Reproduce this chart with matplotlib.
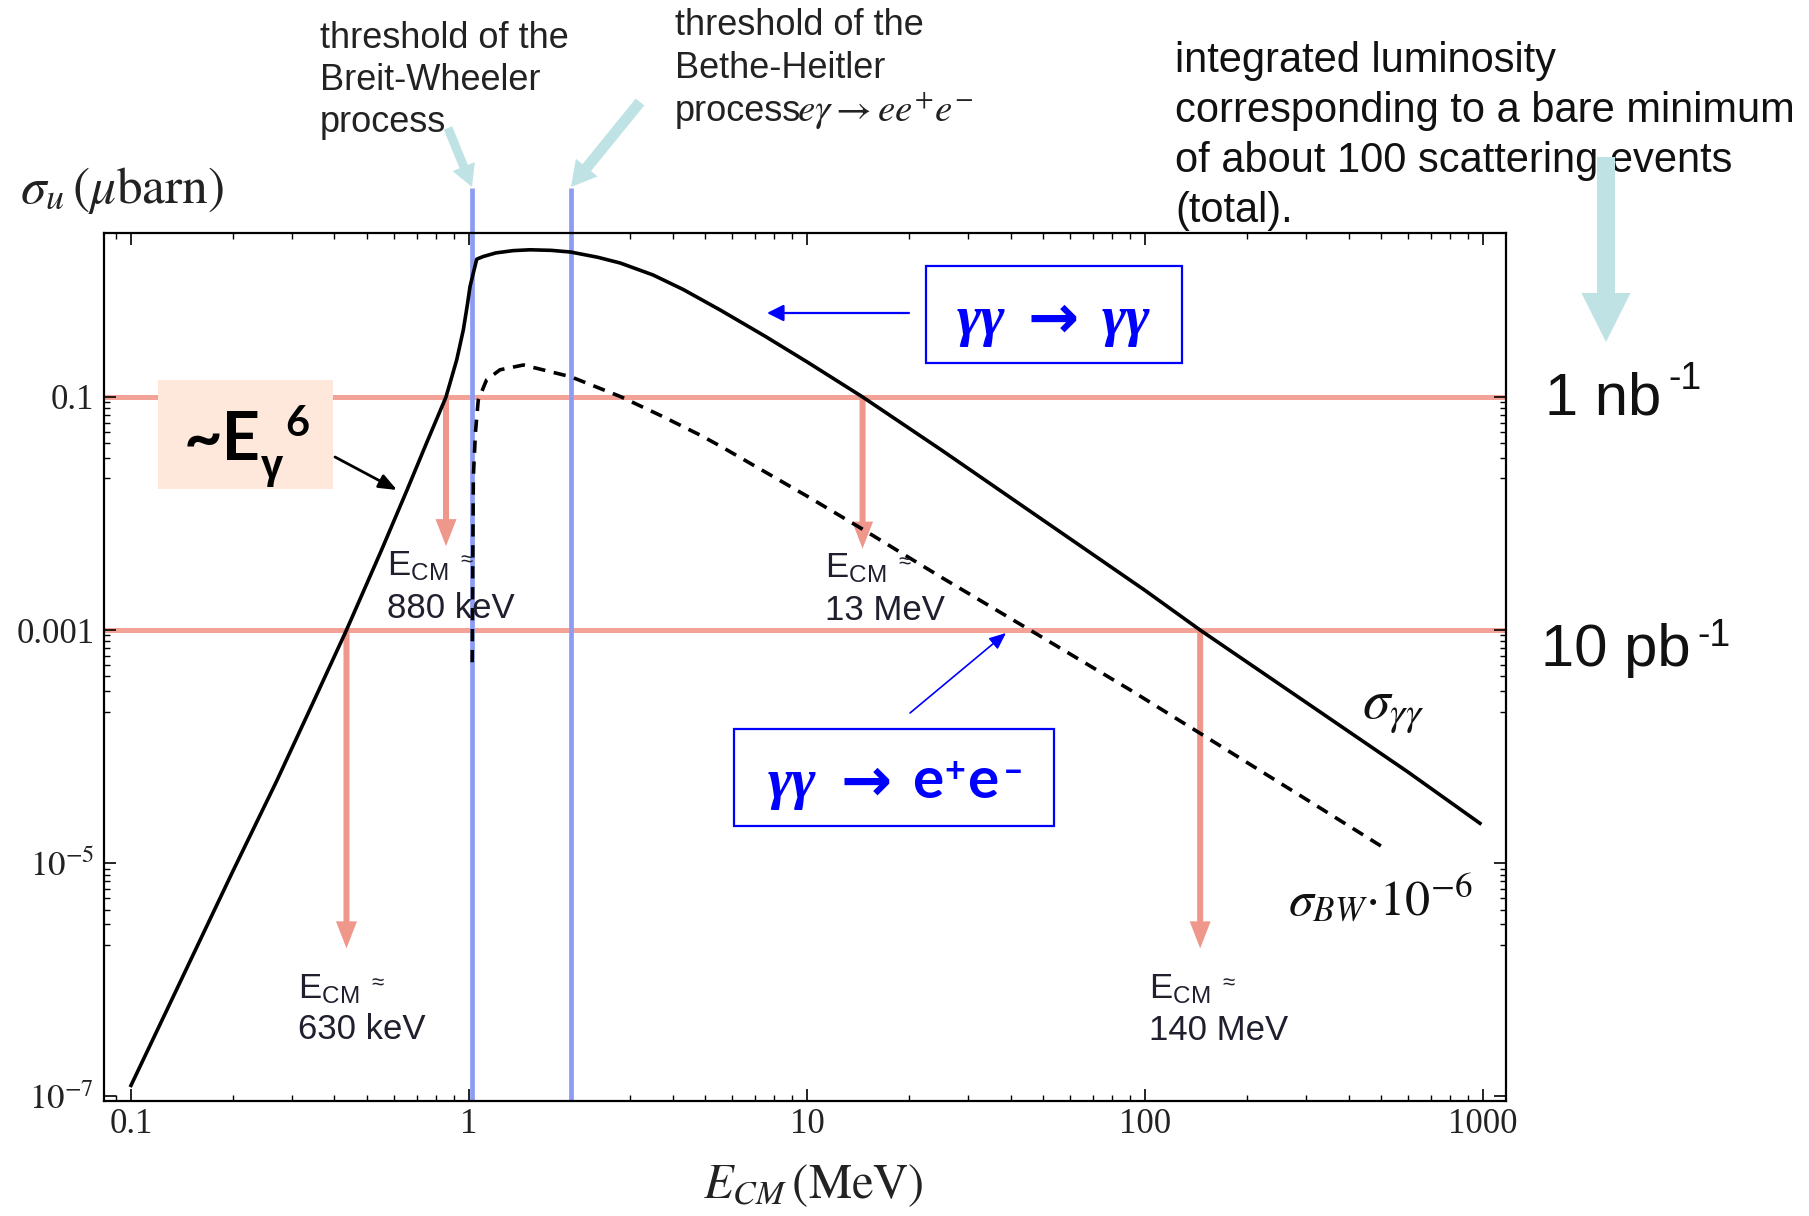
import matplotlib
matplotlib.use("Agg")
import matplotlib.pyplot as plt
from matplotlib.patches import Rectangle, FancyArrowPatch
from matplotlib.ticker import FixedLocator, NullFormatter

# ---------------- data ----------------
# sigma_gamma-gamma (micro-barn) vs E_CM (MeV) -- solid curve
e_gg = [0.1, 0.15, 0.2, 0.27, 0.35, 0.434, 0.55, 0.655, 0.75, 0.855, 0.92,
        0.962, 0.99, 1.007, 1.03, 1.054, 1.1, 1.2, 1.35, 1.514, 1.75, 2.0,
        2.4, 2.8, 3.5, 4.3, 5.53, 7.5, 10, 14.6, 25, 50, 100, 145.6, 300,
        600, 979]
sigma_gg = [1.24e-7, 1.47e-6, 8.5e-6, 5.1e-5, 2.58e-4, 1.0e-3, 4.8e-3,
            1.58e-2, 4.07e-2, 0.1, 0.209, 0.376, 0.631, 0.885, 1.16, 1.52,
            1.60, 1.72, 1.80, 1.83, 1.81, 1.75, 1.58, 1.41, 1.114, 0.836,
            0.558, 0.333, 0.20, 0.1, 0.035, 8.75e-3, 2.19e-3, 1.0e-3,
            2.39e-4, 6.05e-5, 2.2e-5]

# sigma_BW * 1e-6 -- dashed curve
e_bw = [1.022, 1.026, 1.03, 1.045, 1.065, 1.127, 1.235, 1.449, 2.0, 2.8,
        3.7, 4.82, 5.53, 10, 14.2, 25, 45.7, 90, 145.6, 300, 510]
sigma_bw = [5.3e-4, 4e-3, 2.07e-2, 5.0e-2, 9.4e-2, 0.14, 0.171, 0.188,
            0.149, 0.101, 0.069, 0.0472, 0.038, 0.0141, 7.7e-3, 2.83e-3,
            1.0e-3, 3.09e-4, 1.3e-4, 3.53e-5, 1.35e-5]

# luminosity levels (horizontal lines) and thresholds (vertical lines)
lum_levels = [0.1, 1e-3]
thresholds = [1.022, 2.0]
threshold_top = 6.2

# down arrows at the crossings
arrow_e = [0.434, 0.855, 14.6, 145.6]
arrow_from = [1e-3, 0.1, 0.1, 1e-3]
arrow_to = [1.86e-6, 5.25e-3, 5.0e-3, 1.86e-6]
arrow_labels = ["630 keV", "880 keV", "13 MeV", "140 MeV"]

x_ticks = [0.1, 1, 10, 100, 1000]
x_ticklabels = ["0.1", "1", "10", "100", "1000"]
y_ticks = [1e-7, 1e-5, 1e-3, 0.1]
y_ticklabels = [r"$10^{-7}$", r"$10^{-5}$", "0.001", "0.1"]

# ---------------- figure ----------------
W, H, DPI = 1809, 1216, 100
plt.rcParams["mathtext.fontset"] = "stix"
plt.rcParams["mathtext.rm"] = "Liberation Sans"
plt.rcParams["mathtext.it"] = "Liberation Sans:italic"
plt.rcParams["mathtext.bf"] = "Liberation Sans:bold"
plt.rcParams["mathtext.sf"] = "Liberation Sans"

fig = plt.figure(figsize=(W / DPI, H / DPI), dpi=DPI)
fig.patch.set_facecolor("white")

L, R, T, B = 104, 1505.7, 233, 1101
ax = fig.add_axes([L / W, 1 - B / H, (R - L) / W, (B - T) / H])
ax.set_xscale("log")
ax.set_yscale("log")
ax.set_xlim(0.0832, 1167)
ax.set_ylim(10 ** -7.04, 10 ** 0.4065)


def F(x, y):
    return (x / W, 1 - y / H)


PX = 72.0 / DPI  # mutation scale giving pixel units

RED = "#f2a296"
REDA = "#ee978a"
BLUE_LINE = "#8d9cf2"
CYAN = "#bfe2e5"
TXT = "#1f1f2e"

# horizontal luminosity lines
for lv in lum_levels:
    ax.axhline(lv, color=RED, lw=3.6, zorder=1)

# threshold lines (extend above the frame)
for th in thresholds:
    ax.plot([th, th], [10 ** -7.04, threshold_top], color=BLUE_LINE, lw=3.4,
            zorder=2, clip_on=False, solid_capstyle="butt")

# down arrows
for xa, y0, y1 in zip(arrow_e, arrow_from, arrow_to):
    ax.add_patch(FancyArrowPatch((xa, y0), (xa, y1), transform=ax.transData,
                                 arrowstyle="simple,head_length=27,head_width=21,tail_width=6",
                                 mutation_scale=PX, color=REDA, lw=0,
                                 shrinkA=0, shrinkB=0, zorder=2.5))

# curves
ax.plot(e_gg, sigma_gg, color="black", lw=2.6, zorder=4,
        solid_joinstyle="round")
ax.plot(e_bw, sigma_bw, color="black", lw=2.6, zorder=4,
        linestyle=(0, (3.4, 2.4)))

# ticks
ax.xaxis.set_major_locator(FixedLocator(x_ticks))
ax.xaxis.set_minor_locator(FixedLocator([k * 10 ** n for n in range(-2, 4) for k in range(2, 10)]))
ax.yaxis.set_major_locator(FixedLocator(y_ticks))
ax.yaxis.set_minor_locator(FixedLocator([k * 10.0 ** n for n in (-2, -4, -6) for k in range(2, 10)]))
ax.xaxis.set_minor_formatter(NullFormatter())
ax.yaxis.set_minor_formatter(NullFormatter())
ax.set_xticklabels(x_ticklabels, fontfamily="Liberation Serif", fontsize=25, color="#222")
ax.set_yticklabels(y_ticklabels, fontfamily="Liberation Serif", fontsize=25, color="#222")
ax.tick_params(which="both", direction="in", top=True, right=True)
ax.tick_params(which="major", length=8.5, width=1.2)
ax.tick_params(which="minor", length=4.3, width=1.0)
ax.tick_params(axis="y", pad=7)
ax.tick_params(axis="x", pad=5)
for s in ax.spines.values():
    s.set_linewidth(1.6)

# axis titles
fig.text(*F(20, 190), r"$\sigma_u\,\left(\mu\mathrm{barn}\right)$", fontsize=37,
         ha="left", va="center", color="#222")
fig.text(*F(813, 1185), r"$E_{CM}\,\left(\mathrm{MeV}\right)$", fontsize=35,
         ha="center", va="center", color="#222")

# curve labels
fig.text(*F(1362, 719), r"$\sigma_{\gamma\gamma}$", fontsize=40, ha="left",
         va="baseline", color="#111")
fig.text(*F(1288, 915), r"$\sigma_{BW}{\cdot}10^{-6}$", fontsize=36,
         ha="left", va="baseline", color="#111")

# E_CM labels
ecm_pos = [(298, 998, 1039), (387, 575, 618), (825, 577, 620), (1149, 998, 1040)]
for (xp, yb1, yb2), lab in zip(ecm_pos, arrow_labels):
    fig.text(*F(xp, yb1), r"E$_{\mathrm{CM}}$", fontsize=25,
             fontfamily="Liberation Sans", math_fontfamily="custom",
             ha="left", va="baseline", color=TXT)
    fig.text(*F(xp + 73, yb1 - 8), "≈", fontsize=16,
             fontfamily=["Liberation Sans", "DejaVu Sans"],
             ha="left", va="baseline", color=TXT)
    fig.text(*F(xp, yb2), lab, fontsize=25, fontfamily="Liberation Sans",
             ha="left", va="baseline", color=TXT)

# luminosity labels on the right
fig.text(*F(1545, 415), "1 nb", fontsize=43, fontfamily="Liberation Sans",
         ha="left", va="baseline", color="#111")
fig.text(*F(1668, 389), "-1", fontsize=27, fontfamily="Liberation Sans",
         ha="left", va="baseline", color="#111")
fig.text(*F(1541, 666), "10 pb", fontsize=43, fontfamily="Liberation Sans",
         ha="left", va="baseline", color="#111")
fig.text(*F(1697, 646), "-1", fontsize=27, fontfamily="Liberation Sans",
         ha="left", va="baseline", color="#111")

# top annotation texts
for i, line in enumerate(["threshold of the", "Breit-Wheeler", "process"]):
    fig.text(*F(320, 48 + 42 * i), line, fontsize=26, fontfamily="Liberation Sans",
             ha="left", va="baseline", color="#222")
for i, line in enumerate(["threshold of the", "Bethe-Heitler", "process"]):
    fig.text(*F(675, 35 + 43 * i), line, fontsize=26, fontfamily="Liberation Sans",
             ha="left", va="baseline", color="#222")
fig.text(*F(797, 121), r"$e\gamma \rightarrow ee^{+}e^{-}$", fontsize=28,
         ha="left", va="baseline", color="#222")
for i, line in enumerate(["integrated luminosity", "corresponding to a bare minimum",
                          "of about 100 scattering events", "(total)."]):
    fig.text(*F(1175, 72 + 50 * i), line, fontsize=30, fontfamily="Liberation Sans",
             ha="left", va="baseline", color="#111")


def farrow(p0, p1, style, color, lw=0, z=5):
    a = FancyArrowPatch(F(*p0), F(*p1), transform=fig.transFigure,
                        arrowstyle=style, mutation_scale=PX, color=color,
                        lw=lw, shrinkA=0, shrinkB=0, zorder=z)
    fig.add_artist(a)


# cyan pointer arrows
farrow((448, 128), (472, 187), "simple,head_length=22,head_width=24,tail_width=9", CYAN)
farrow((640, 102), (571, 187), "simple,head_length=25,head_width=28,tail_width=11", CYAN)
farrow((1606, 157), (1606, 342), "simple,head_length=49,head_width=49,tail_width=18", CYAN)

# ~E_gamma^6 box
fig.add_artist(Rectangle(F(158, 489), 175 / W, 109 / H, transform=fig.transFigure,
                         facecolor="#fde8db", edgecolor="none", zorder=3))
fig.text(*F(184, 460), "~E", fontsize=48, fontfamily="Lato", fontweight="bold",
         ha="left", va="baseline", color="black", zorder=6)
fig.text(*F(261, 478), "γ", fontsize=28, fontfamily=["Open Sans", "DejaVu Sans"],
         fontweight="bold", ha="left", va="baseline", color="black", zorder=6)
fig.text(*F(285, 436), "6", fontsize=30, fontfamily="Lato", fontweight="bold",
         ha="left", va="baseline", color="black", zorder=6)
farrow((335, 457), (397, 490), "-|>,head_length=15,head_width=6", "black", lw=2.0)

# blue boxes
BL = "#0000ff"
ARROWFONT = ["DejaVu Sans"]
fig.add_artist(Rectangle(F(926, 363), 256 / W, 97 / H, transform=fig.transFigure,
                         facecolor="white", edgecolor=BL, lw=1.6, zorder=4))
fig.text(*F(981, 335), "γγ", fontsize=42, fontfamily=["Liberation Serif", "DejaVu Serif"],
         fontweight="bold", fontstyle="italic", ha="center", va="baseline", color=BL, zorder=6)
fig.text(*F(1053, 338), "→", fontsize=44, fontfamily=ARROWFONT,
         fontweight="bold", ha="center", va="baseline", color=BL, zorder=6)
fig.text(*F(1126, 335), "γγ", fontsize=42, fontfamily=["Liberation Serif", "DejaVu Serif"],
         fontweight="bold", fontstyle="italic", ha="center", va="baseline", color=BL, zorder=6)
farrow((909, 313), (767, 313), "-|>,head_length=14,head_width=7", BL, lw=1.6)

fig.add_artist(Rectangle(F(734, 826), 320 / W, 97 / H, transform=fig.transFigure,
                         facecolor="white", edgecolor=BL, lw=1.6, zorder=4))
fig.text(*F(792, 798), "γγ", fontsize=42, fontfamily=["Liberation Serif", "DejaVu Serif"],
         fontweight="bold", fontstyle="italic", ha="center", va="baseline", color=BL, zorder=6)
fig.text(*F(866, 801), "→", fontsize=44, fontfamily=ARROWFONT,
         fontweight="bold", ha="center", va="baseline", color=BL, zorder=6)
fig.text(*F(912, 798), "e", fontsize=42, fontfamily="Lato", fontweight="bold",
         ha="left", va="baseline", color=BL, zorder=6)
fig.text(*F(955, 782), "+", fontsize=26, fontfamily="Lato", fontweight="bold",
         ha="center", va="baseline", color=BL, zorder=6)
fig.text(*F(967, 798), "e", fontsize=42, fontfamily="Lato", fontweight="bold",
         ha="left", va="baseline", color=BL, zorder=6)
fig.text(*F(1013, 782), "–", fontsize=26, fontfamily="Lato", fontweight="bold",
         ha="center", va="baseline", color=BL, zorder=6)
farrow((910, 713), (1006, 633), "-|>,head_length=14,head_width=6", BL, lw=1.2)

fig.savefig("out.png", dpi=DPI, facecolor="white")
